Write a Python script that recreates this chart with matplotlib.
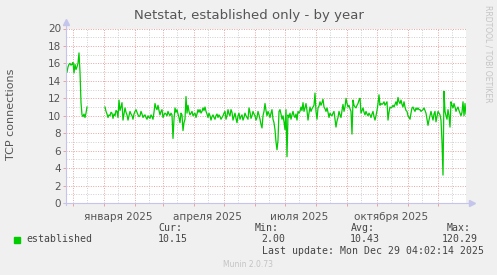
import datetime as dt
import numpy as np
import matplotlib
matplotlib.use("Agg")
import matplotlib.pyplot as plt
import matplotlib.dates as mdates
from matplotlib.patches import Rectangle

# time span of the munin "by year" graph (400 days)
start = dt.datetime(2024, 11, 24, 4, 2)
end = dt.datetime(2025, 12, 29, 4, 2)

# daily averages, first chunk starts at day 1, second at day 39
first_start = 1
first_vals = [15.0, 15.6, 15.9, 16.0, 15.8, 15.9, 16.1, 14.9, 15.9, 15.3,
              15.6, 16.0, 17.2, 15.0, 11.5, 10.1, 9.9, 10.2, 9.8, 10.3, 11.0]

main_start = 39
main_vals = [
    # days 39..132
    11.0, 10.5, 10.2, 9.8, 10.1, 10.0, 10.4, 10.3, 9.7, 10.2,
    10.0, 10.6, 10.5, 9.8, 11.8, 10.6, 11.0, 11.5, 9.5, 10.2,
    10.9, 10.4, 10.1, 9.5, 10.0, 10.5, 10.2, 10.0, 9.6, 10.2,
    10.5, 10.7, 10.4, 10.1, 9.9, 10.0, 10.5, 10.2, 9.8, 10.0,
    10.1, 9.8, 9.6, 10.0, 9.8, 9.7, 10.1, 9.9, 9.6, 10.4,
    11.4, 10.9, 10.7, 11.2, 10.6, 10.1, 10.5, 10.7, 9.8, 10.1,
    10.3, 10.2, 10.0, 10.5, 10.2, 10.0, 10.3, 10.1, 7.4, 9.6,
    10.9, 10.4, 10.7, 10.2, 9.8, 9.2, 10.3, 10.1, 8.3, 9.2,
    9.6, 12.2, 10.3, 11.2, 10.5, 10.1, 10.3, 10.5, 10.0, 10.2,
    10.3, 9.8, 10.2, 10.7,
    # days 133..253
    10.4, 10.7, 10.3, 10.5, 10.9, 10.6, 11.0, 10.5, 10.2, 9.8,
    10.3, 10.0, 9.5, 9.9, 10.1, 9.8, 9.6, 10.0, 10.2, 9.8,
    10.1, 9.9, 9.6, 9.8, 10.0, 10.3, 10.5, 9.6, 10.0, 10.7,
    10.2, 10.0, 10.7, 10.4, 9.5, 9.9, 10.3, 9.7, 9.2, 10.0,
    10.3, 9.6, 9.9, 10.1, 9.5, 9.8, 10.3, 10.0, 9.8, 9.6,
    10.9, 10.4, 9.7, 10.0, 10.5, 10.2, 10.0, 9.5, 9.8, 10.5,
    10.1, 9.6, 9.0, 8.6, 10.0, 10.5, 11.4, 10.6, 10.0, 10.5,
    10.2, 9.8, 10.3, 10.7, 9.6, 9.2, 8.4, 7.0, 6.1, 7.2,
    10.5, 10.7, 10.2, 9.6, 10.0, 9.3, 8.4, 10.7, 5.3, 10.1,
    9.8, 10.3, 9.6, 10.1, 10.5, 10.0, 9.8, 10.2, 9.5, 10.5,
    10.3, 10.5, 11.0, 10.6, 11.5, 10.5, 10.9, 11.4, 10.6, 9.5,
    10.3, 11.0, 10.5, 10.8, 11.0, 11.2, 12.6, 10.5, 9.6, 10.9,
    11.1,
    # days 254..400
    11.6, 11.2, 11.5, 11.9, 11.0, 10.8, 10.5, 10.9, 10.4, 9.8,
    10.3, 10.1, 10.0, 10.3, 10.5, 9.6, 8.7, 9.4, 9.8, 10.5,
    10.1, 9.8, 10.6, 11.3, 10.5, 11.0, 12.0, 11.4, 11.0, 11.2,
    10.8, 10.5, 7.9, 11.8, 11.2, 11.0, 10.9, 11.2, 11.4, 11.8,
    12.0, 10.3, 10.6, 10.9, 10.4, 10.1, 10.5, 10.2, 10.0, 10.3,
    10.1, 9.8, 10.2, 10.5, 9.9, 9.5, 10.0, 10.6, 11.4, 12.4,
    11.2, 11.4, 11.3, 11.4, 11.6, 11.2, 11.4, 11.6, 9.5, 10.4,
    11.0, 10.9, 11.0, 11.2, 11.0, 11.3, 11.6, 11.2, 12.1, 11.6,
    11.4, 11.8, 11.3, 11.0, 11.6, 11.0, 10.6, 10.5, 10.0, 9.8,
    9.6, 10.3, 10.9, 11.0, 10.7, 10.5, 10.9, 10.7, 10.9, 10.7,
    10.7, 10.5, 10.6, 10.7, 10.9, 10.6, 10.3, 9.6, 8.9, 9.5,
    10.0, 10.5, 10.0, 9.5, 10.2, 10.5, 9.3, 9.9, 10.5, 10.3,
    10.1, 9.5, 7.0, 3.2, 12.8, 10.5, 10.0, 9.6, 10.7, 10.0,
    8.7, 11.6, 11.2, 10.9, 11.4, 11.0, 10.5, 10.8, 11.0, 10.6,
    10.3, 10.0, 10.4, 11.6, 10.0, 11.4, 10.2,
]

month_labels = ["января 2025", "апреля 2025", "июля 2025", "октября 2025"]
label_dates = [dt.datetime(2025, 1, 15), dt.datetime(2025, 4, 15),
               dt.datetime(2025, 7, 15), dt.datetime(2025, 10, 15)]

legend_name = "established"
cur, vmin, avg, vmax = "10.15", "2.00", "10.43", "120.29"
last_update = "Last update: Mon Dec 29 04:02:14 2025"

W, H = 497, 275
txt = "#555555"
mgrid = "#E6A3A3"
grid = "#CFCFCF"
axcol = "#C4C4EC"

fig = plt.figure(figsize=(W / 100, H / 100), dpi=100)
fig.patch.set_facecolor("#F0F0F0")
ax = fig.add_axes([66 / W, 1 - 203 / H, 400 / W, 174.5 / H])
ax.set_facecolor("white")

d1 = [start + dt.timedelta(days=first_start + i) for i in range(len(first_vals))]
d2 = [start + dt.timedelta(days=main_start + i) for i in range(len(main_vals))]
ax.plot(d1, first_vals, color="#00CC00", lw=0.9)
ax.plot(d2, main_vals, color="#00CC00", lw=0.9)

ax.set_xlim(start, end)
ax.set_ylim(0, 20)

ax.set_yticks(np.arange(0, 21, 2))
ax.set_yticks(np.arange(0, 21, 1), minor=True)
ax.xaxis.set_major_locator(mdates.MonthLocator())
ax.xaxis.set_minor_locator(mdates.MonthLocator(bymonthday=15))

ax.grid(which="minor", color=grid, ls=(0, (1, 1.5)), lw=0.7)
ax.grid(which="major", color=mgrid, ls=(0, (1, 1.5)), lw=0.7)
ax.set_axisbelow(True)

ax.tick_params(which="major", length=2, width=0.7, color=mgrid,
               labelsize=7.5, labelcolor=txt, pad=1.5)
ax.tick_params(which="minor", length=0)
ax.tick_params(axis="x", labelbottom=False)
for s in ax.spines.values():
    s.set_visible(False)

# axis lines with arrow heads
ax.plot([-0.006, 1.012], [0, 0], color=axcol, lw=0.8, transform=ax.transAxes, clip_on=False)
ax.plot([0, 0], [-0.012, 1.035], color=axcol, lw=0.8, transform=ax.transAxes, clip_on=False)
ax.plot([1.014], [0], marker=">", ms=4, color=axcol, transform=ax.transAxes, clip_on=False)
ax.plot([0], [1.037], marker="^", ms=4, color=axcol, transform=ax.transAxes, clip_on=False)

for lab, d in zip(month_labels, label_dates):
    ax.text(d, -0.05, lab, transform=ax.get_xaxis_transform(), ha="center", va="top",
            fontsize=7.5, color=txt)

fig.text(0.5, 1 - 16 / H, "Netstat, established only - by year", ha="center", va="center",
         fontsize=9.5, color=txt)
fig.text(11 / W, 1 - 114 / H, "TCP connections", rotation=90, ha="center", va="center",
         fontsize=8, color=txt)
fig.text(488 / W, 1 - 5 / H, "RRDTOOL / TOBI OETIKER", rotation=270, ha="center", va="top",
         fontsize=5.5, color="#C4C4C4")

mono = dict(family="DejaVu Sans Mono", fontsize=7.1, color="#444444", va="center")
fig.add_artist(Rectangle((14 / W, 1 - 242.5 / H), 6 / W, 5.5 / H,
                         transform=fig.transFigure, color="#00CC00"))
fig.text(26 / W, 1 - 239.5 / H, legend_name, **mono)
fig.text(158 / W, 1 - 228 / H, "Cur:", **mono)
fig.text(158 / W, 1 - 239.5 / H, cur, **mono)
fig.text(255 / W, 1 - 228 / H, "Min:", **mono)
fig.text(261.5 / W, 1 - 239.5 / H, vmin, **mono)
fig.text(351 / W, 1 - 228 / H, "Avg:", **mono)
fig.text(350 / W, 1 - 239.5 / H, avg, **mono)
fig.text(447 / W, 1 - 228 / H, "Max:", **mono)
fig.text(441.5 / W, 1 - 239.5 / H, vmax, **mono)
fig.text(261.5 / W, 1 - 251 / H, last_update, **mono)
fig.text(223 / W, 1 - 264.5 / H, "Munin 2.0.73", fontsize=5.5, color="#C4C4C4", va="center")

fig.savefig("out.png", dpi=100, facecolor=fig.get_facecolor())
